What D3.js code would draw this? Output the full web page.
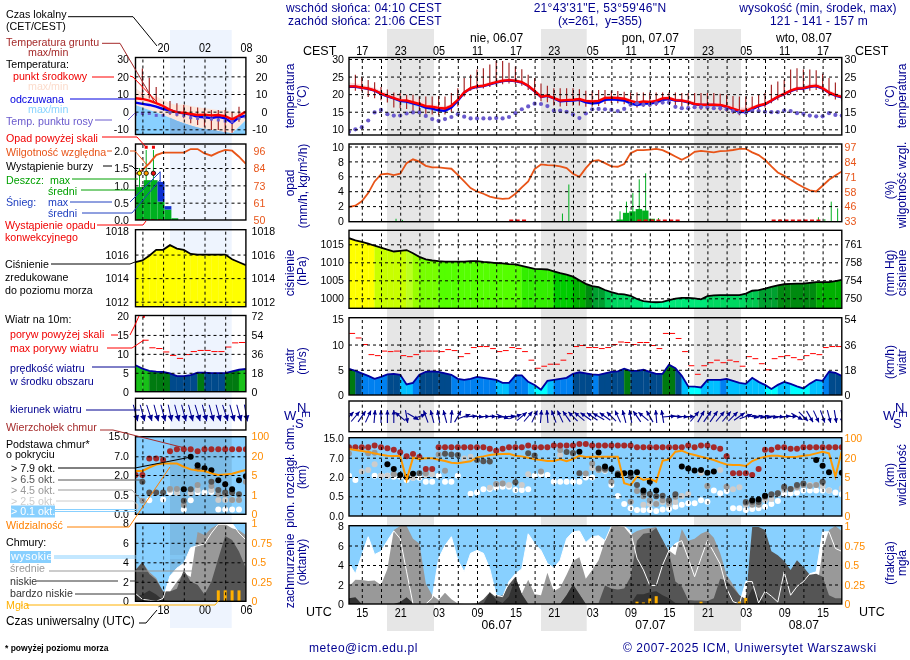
<!DOCTYPE html>
<html><head><meta charset="utf-8">
<script src="https://cdn.jsdelivr.net/npm/d3@7"></script>
<style>
html,body{margin:0;padding:0;background:#fff}
svg{display:block;font-family:"Liberation Sans",Arial,sans-serif}
text{font-size:11px}
</style></head><body>
<script>
// ---------- main meteogram data: hourly from 13 UTC 05.07 (78 values) ----------
const mainTemp=[22.2,22.2,21.9,21.6,21.1,20.2,19.5,18.9,18.3,18.2,
17.7,17.2,16.6,16.4,16.1,15.9,16.7,18.4,20.5,21.7,
22.2,22.4,22.9,23.4,23.8,24.0,23.8,23.4,22.4,20.9,
19.3,19.6,18.9,18.2,18.3,18.4,18.6,18.1,17.9,18.1,
18.9,19.0,18.9,18.7,18.1,17.6,17.9,17.8,18.1,18.8,
18.9,18.3,18.2,17.8,17.2,17.0,17.0,17.0,16.9,16.5,
15.9,15.3,15.2,16.0,16.8,17.2,18.2,19.3,20.1,21.0,
21.6,21.7,22.2,22.4,21.7,20.5,19.7,19.2];
const mainApparent=[22.1,22.1,21.8,21.5,21.0,20.1,19.4,18.8,18.1,17.9,
17.4,16.9,16.2,15.9,15.4,15.3,16.2,18.1,20.4,21.6,
22.1,22.3,22.8,23.3,23.7,23.9,23.7,23.3,22.3,20.8,
19.2,19.5,18.8,18.0,18.1,18.2,18.4,17.7,17.4,17.5,
18.4,18.5,18.4,18.2,17.4,16.9,17.3,17.3,17.7,18.4,
18.6,18.2,18.1,17.7,17.1,16.9,16.9,16.9,16.8,16.4,
15.7,15.0,14.9,15.7,16.6,17.1,18.1,19.2,20.0,20.9,
21.5,21.6,22.1,22.3,21.6,20.4,19.6,19.1];
const mainTempMax=[23.3,23.1,22.7,22.3,21.8,21.0,20.3,19.8,19.3,19.1,
18.7,18.2,17.6,17.2,16.8,16.6,17.2,18.8,20.9,22.1,
22.7,22.9,23.5,24.0,24.4,24.6,24.4,23.9,22.9,21.4,
19.9,20.2,19.4,18.7,18.8,18.9,19.1,18.6,18.4,18.6,
19.4,19.5,19.4,19.2,18.6,18.1,18.4,18.3,18.6,19.3,
19.4,18.8,18.7,18.4,17.9,17.7,17.7,17.7,17.6,17.2,
16.8,16.3,16.1,16.6,17.3,17.7,18.7,19.8,20.6,21.5,
22.2,22.4,22.9,23.1,22.4,21.2,20.4,19.8];
const mainApparentMin=[21.9,21.9,21.6,21.3,20.7,19.8,19.0,18.4,17.6,17.3,
16.8,16.3,15.6,15.3,14.9,14.8,15.8,17.8,20.2,21.4,
21.9,22.1,22.6,23.1,23.5,23.7,23.5,23.1,22.1,20.6,
19.0,19.3,18.6,17.7,17.8,17.9,18.1,17.3,17.0,17.1,
18.0,18.1,18.0,17.8,17.0,16.5,16.9,16.9,17.3,18.0,
18.3,18.0,17.9,17.5,16.9,16.7,16.7,16.7,16.6,16.2,
15.4,14.7,14.6,15.4,16.4,16.9,17.9,19.0,19.8,20.7,
21.3,21.4,21.9,22.1,21.4,20.2,19.4,18.9];
const mainGroundMax=[null,25.5,24.8,24,23.4,22,21.3,20.5,20.3,19.8,
19.8,19.3,19.3,19.3,19.5,19.3,20.3,21.7,24.6,25.5,
27,27.4,28.4,29.5,29.4,28.9,27.9,27.1,25.5,24.6,
23,22.4,21.7,21.7,21.7,21.7,21.4,21,21,21.2,
21.2,21,20.9,20.7,20.5,20.5,20.5,20.5,20.5,20.5,
20.5,20.5,20.3,20.3,20.3,20.3,20.3,20.3,20.1,19.8,
19.5,19.3,19.3,19.3,19.8,20.3,22.7,23.6,24.1,27,
27.4,27,27,26.8,25.8,24.6,23.3,21.7];
const mainGroundMin=[null,21,20.8,19.2,18.8,18.3,17.6,16.2,16,15.8,
15.2,14.8,14.4,14.2,14,14.2,15,16.5,19.3,21,
21.3,21.6,22,22.4,22.8,23,22.9,22.4,21.2,19.6,
18,17.7,16.8,16.5,16.6,16.7,16.8,16.4,16.4,16.6,
17.2,17.5,17.4,17.1,16.5,16.2,16.4,16.3,16.6,17.2,
17.3,16.9,16.6,16.2,15.8,15.5,15.5,15.5,15.3,15,
14.4,14,14.2,15,15.6,16.2,17.4,18.3,19.3,20,
20.6,20.7,21,21.2,20.6,19.4,18.5,18];
const mainDew=[9.3,10,10.6,12.5,14.8,15.5,14.3,13.9,13.9,14.5,
14.8,14.8,13.8,12.9,12.4,12.9,13.5,14.3,13.6,13.1,
13.1,13.1,13.1,13.2,13.1,13.5,14.6,15.7,16.5,17.3,
17.2,16.6,15.3,15.3,15,14.2,13.2,14.5,15.7,15.8,
15.7,15.5,15.2,15.8,17,17.4,17,17,17.4,17.6,
17.6,16.4,16,16,16.3,16.3,16.2,16,16,15.7,
15.2,14.8,14.8,15.2,15.2,15,14.9,14.9,15.3,15.2,
14.6,14.4,13.9,13.7,13.7,14.6,14.1,13.9];
const mainRH=[45,46.1,49.9,57,67,73,73.6,72.4,73.6,82.7,
86,84,80.4,79,79,78.4,77.9,72.7,67,61.3,
58.4,56.4,54,52.7,52,52.4,56.4,61.9,67,77.6,
81.6,81,80.7,79.9,78.4,73.6,71,78.4,84.4,85.3,
82.7,79.9,79.6,82,91.3,93.9,93.9,94.4,95,93.9,
91.3,88.4,85.6,88.4,92.4,93.3,92.6,92,93,93.3,
94,95,95,92,89.6,85.6,79.9,74.7,71.9,68.4,
65,62,59.3,58.4,63.3,68.4,72,75.6];
const rainMeanHours=[42,43,44,45,46,47];
const rainMeanVals=[0.2,1.1,1.3,1.6,1.4,0.3];
const rainMaxHours=[7,8,33,34,42,43,44,45,46,48,67,73,74,75,76];
const rainMaxVals=[0.3,0.15,1,4.9,1.3,2.6,3.75,5.6,6.4,0.4,0.25,0.5,0.25,2.6,1.7];
const precipFlagHours=[25,26,27,45,46,47,48,49,50,51,66,67,68,69,70,71,72,73];
const mainPressure=[1016.7,1016.1,1015.7,1015.2,1014.6,1014.1,1013.5,1013,1013.2,1013.4,
1012.5,1011.5,1010.8,1010.5,1010.3,1010.2,1010.2,1010.2,1010.2,1010.3,
1010.3,1010.1,1010,1009.8,1009.7,1009.5,1009.4,1009,1008.6,1008.2,
1008.1,1008,1007.5,1007,1006.6,1006,1005,1004,1003.4,1003.1,
1002.3,1001.7,1001.2,1001.1,1000.7,999.8,999.2,999,998.9,999,
999.5,999.9,1000.1,1000.1,1000,999.7,1000.6,1000.8,1000.9,1000.9,
1000.9,1000.9,1001.3,1002.1,1002.3,1002.7,1003.2,1003.6,1003.9,1004,
1004.1,1004.1,1004.3,1004.5,1004.5,1004.5,1004.8,1005.1];
const mainWind=[5.2,4.8,4.3,3.8,3.2,3.6,4.1,4.2,4,2.1,
2.4,4,4.6,4.7,4.6,4.3,4,3.2,3,3.2,
3.6,3.4,3.2,3,2.4,2.4,3.9,3.9,2.6,2,
1.06,2.8,3,3.2,3.4,4.2,4.5,4.3,4.1,4,
4.3,4.6,4.7,5.2,4.8,4.8,5,4.6,4.2,4.2,
6,5.3,3.8,1.7,1.65,1.5,3,3,3,3.2,
2.8,2.4,2.2,3.4,2.6,2,1.2,2,2.6,2.2,
1.7,1.3,2.25,3,2.8,4.6,4.4,3.8];
const mainGust=[12.2,11.3,10,8,7.8,8.7,8.6,8.7,7.8,7.6,
8,8.7,8.7,8.7,8.6,9,8.8,7.6,8.2,9.4,
9.6,9.6,9.2,8.6,8.8,9.4,9.2,8.6,6.9,5.3,
5.7,6.1,6.1,6.9,8.2,9.6,9.8,9.4,9.4,9.2,
9.4,10,10.5,10.4,10,10.4,10.4,9.8,9.2,12.2,
12.2,11.2,8.6,5.8,4.1,5.8,6.4,6.9,6.4,6.9,
6.6,5.7,7.6,7.2,6.2,5,7.2,7.6,7.8,7.4,
7,7.8,8.2,8,9.4,9.6,9.6];
const mainDir=[45,40,35,25,5,0,0,0,-50,170,
120,70,-20,-15,-10,-15,5,30,70,85,
95,90,90,95,110,85,70,50,40,25,
5,-5,-20,-25,-35,-45,-50,-55,-55,-60,
-55,-45,-25,-15,-10,-35,-50,-30,-5,-10,
85,95,95,90,40,30,35,35,40,40,
45,55,70,100,100,100,100,95,85,90,
120,135,150,155,160,165,170,175];
const mainCloudTop=[11.3,11.3,11.3,11.3,12,11.3,10.9,10.3,9.2,7.6,
8.5,7.3,4.05,4.05,11.3,11.3,11.3,11.3,11.3,11.3,
11.3,11.3,10.7,9.9,10.7,11.3,11.3,11.3,12,11.3,
11.3,11.3,12,12,12,12,12.65,12.65,12,12,
12,12,12,12,12,11.3,11.3,11.3,11.3,11.3,
11.3,11.3,11.3,12,11.3,12,12,11.3,10.7,7.6,
2.95,2.95,2.95,2.5,4.05,10.3,10.3,11.3,11.3,10.7,
10.7,11.3,11.3,11.3,11.3,11.3,11.3,11.3];
const mainBase79=[[6,5.3],[7,4.1],[8,2.5],[9,2],[10,2.85],[36,9.5],[39,9.1],[40,4.7],[41,4.1],[42,2.5],[43,3],[44,3.1],[45,3.2],[46,.95],[47,1.64],[48,.95],[52,4.7],[53,4.2],[54,3.7],[55,3.8],[56,3.1],[57,3.4],[63,.4],[64,.42],[65,.55],[73,6.4],[74,4.9],[75,3.2],[77,3.1]];
const mainBase65=[[11,2.95],[15,8.6],[16,8.3],[17,8.1],[20,6.4],[21,6.1],[22,6],[26,1.6],[28,8.8],[29,7.9],[34,9.4],[35,8.9],[36,2.95],[39,4.2],[40,4.2],[42,2.9],[44,2.1],[45,1.38],[46,.8],[47,.68],[48,.5],[49,.55],[50,.4],[51,.65],[62,.35],[63,.36],[64,.35],[65,.5],[66,.65],[67,.73],[68,1.25],[69,1.07],[70,1.38],[71,1.5],[74,1.64]];
const mainBase45=[[0,8.7],[3,8.8],[4,9],[7,2.7],[12,3],[14,8.3],[15,3.65],[23,1.45],[24,1.5],[30,3.4],[33,10.2],[35,8.7],[37,2.9],[38,5.5],[39,3.8],[40,3.8],[41,1.64],[44,.36],[45,.92],[46,.5],[47,.4],[48,.3],[49,.4],[50,.33],[51,.49],[56,1.3],[59,1.25],[62,.32],[63,.28],[64,.28],[65,.47],[66,.6],[67,.73],[68,1.12],[69,1.07],[70,1.25],[71,1.38],[72,1.3],[73,1.38],[74,1.57]];
const mainBase25=[[2,3.4],[3,3.8],[4,5.3],[5,2.3],[6,2.3],[7,2.7],[10,1.95],[12,2.5],[13,2.7],[18,6.8],[19,7.4],[22,1.17],[23,1.43],[24,1.5],[25,1.38],[27,1.38],[28,2.7],[33,8.1],[38,4.3],[39,3.8],[44,.35],[46,.28],[47,.3],[48,.32],[49,.35],[50,.28],[51,.35],[52,.53],[53,.68],[55,3.1],[56,1.3],[58,3.8],[59,1.25],[60,1.04],[61,1.2],[62,.28],[64,.3],[65,.4],[66,.43],[67,.68],[68,.99],[69,1.04],[70,1.17],[71,1.38],[72,1.38],[73,1.38],[74,1.3],[75,.95],[77,1.12]];
const mainBase01=[[0,2.3],[1,1.77],[4,2.3],[5,2.3],[6,2.3],[7,2.09],[8,2.09],[9,1.77],[10,1.95],[11,1.95],[12,1.64],[13,1.64],[14,2.3],[15,1.64],[16,1.64],[17,2.3],[19,.7],[20,.8],[21,1.04],[22,1.07],[23,1.17],[24,1.25],[25,1.25],[26,.99],[27,.99],[28,1.04],[29,2.3],[30,2.7],[31,2.5],[32,1.64],[33,1.64],[34,1.64],[35,1.64],[36,1.64],[37,1.97],[38,1.97],[39,3.8],[40,3.65],[41,1.38],[42,.53],[43,.3],[44,.19],[45,.15],[46,.15],[47,.15],[48,.12],[49,.16],[50,.17],[51,.23],[52,.28],[53,.32],[54,.32],[55,.4],[56,.36],[57,.95],[58,.73],[59,.92],[60,.19],[61,.19],[62,.15],[63,.17],[64,.19],[65,.23],[66,.3],[67,.38],[68,.68],[69,.73],[70,.78],[71,.95],[72,.95],[73,.95],[74,.95],[75,.95],[76,.8],[77,.65]];
const mainVis=[55.9,51.7,47.6,43.4,37.9,32.4,28.3,26.9,26.9,4.4,
20,19,19.5,19.5,18.4,17.4,16.1,15.6,16.4,17.2,
21.4,25.5,31,33.8,35.2,36.5,28.3,25.5,20,18.7,
18.2,17.4,17.4,18.7,17.2,19,28.3,22.8,24,24,
24,24,24,3.7,3.3,5.3,4.4,4.7,4,17.7,
18.7,44.8,49,37.9,31,24,19.5,18.2,16.4,14.8,
14.3,14.3,13.5,17.4,19.5,24,28.3,28.3,24,22.8,
24,28.3,31,37.9,44.8,37.9,5.3,47.6];
const mainHigh=[4.15,3.1,5,6.9,5.07,5.4,6.5,7.5,6.7,3.3,
0,0,0,.6,4.65,6,6.9,4.5,3.3,5.2,
5.5,5.2,3.6,.9,.75,2.3,3.1,3.6,7.2,6.2,
5.5,4.15,3.7,4.5,6.7,7.4,7.5,6.3,6.9,7,
6.5,8,8,8,7.4,4.7,3.5,1.9,1.9,4,
5.5,6.2,6.5,4.7,2.8,4.7,6.5,5.3,4.1,1.6,
.25,0,2.3,2.3,.1,1.3,.8,.2,3.3,.9,
1.8,2.3,3.1,3.3,7.4,7.4,5.7,5.4];
const mainMid=[1.8,2.5,2.45,2.35,2.4,1.95,3.6,7.6,8,8,
6.7,6.2,2.1,.9,.4,1.15,.5,.05,0,0,
0,.25,.5,.9,.7,1.9,1.9,1.05,2.5,1,
.9,3.2,1.3,1.7,3,4.4,4.8,2.6,3.5,4.5,
6.5,8,8,7.9,7.1,7.5,7.7,7.8,7.9,6.4,
5.5,5,7.7,6.5,6.7,7.2,7.5,6.8,5.2,3,
2,.9,.4,.1,0,0,0,0,0,0,
0,0,0,1,5.5,7.6,8,7.5];
const mainLow=[.4,.3,0,0,0,0,0,0,0,0,
0,0,0,0,.1,.1,0,0,0,0,
.05,.5,1.2,.7,.9,2,2.8,1,0,0,
0,0,0,0,.9,2,1,0,.1,.1,
1.9,1.6,1.5,1.6,2.8,6.5,7.2,7.3,7.8,6.6,
5.3,2.3,1.8,.4,.35,.35,.3,.6,2.6,2.4,
1.7,.9,.5,7.9,7.9,7.6,5.4,5,4.4,3.5,
4.5,3.8,3,3.1,2.8,.9,.6,.6];
const mainVeryLow=[.6,.7,0,0,0,0,0,0,.2,.7,
.1,0,0,0,0,0,0,0,0,0,
0,0,1.2,.4,.1,.8,2.7,1,0,0,
0,0,0,0,.9,2,1,0,0,0,
0,0,0,0,0,1,1,1.2,1.3,.9,
.6,.1,0,0,0,0,0,0,0,0,
0,0,.2,1.6,.7,.1,0,0,0,0,
0,0,0,0,0,0,0,0];
const mainFogHours=[45,46,47,48,55,61,62];
const mainFogVals=[.03,.02,.07,.1,.03,.03,.08];

// ---------- small legend meteogram: hourly from 14 UTC (17 values) ----------
const leftTemp=[7.6,7.2,6.3,4.8,3.2,1,-.4,-.6,-1.3,-1.9,-1.7,-2.1,-1.9,-2.5,-4.4,-2.3,0];
const leftApparent=[5.1,4.4,3.8,2.9,1.5,.8,-.4,-1,-1.7,-2.9,-3.2,-3.6,-2.9,-3.8,-6.3,-3.2,-2.3];
const leftTempMax=[13.3,10.5,9.5,8.6,6.7,4.8,3.8,4.2,3.2,2.5,1.9,1.5,1,1,0,-.6,.4];
const leftSkyTop=[3.8,2.3,1,-.4,-1.9,-3.4,-5.1,-6.6,-7.9,-9,-9.8,-10.4,-10.9,-11.7,-12.3,-8.5,-4.7];
const leftDew=[-1.5,-1,-1,-2.1,-2.1,-.4,-1.5,-2.3,-3.4,-3.8,-3.4,-4.2,-4.7,-5.3,-5.7,-3.8,-3];
const leftGroundMax=[null,24.5,19.2,14,null,6,4.7,3.8,2.8,2.3,1.9,.9,.9,.9,0,2.8,null];
const leftGroundMin=[null,8.5,7.5,5.7,null,-1.9,-2.8,-3.8,-6.6,-7.5,-8.5,-10.4,-10.4,-11.9,-11.9,-5.7,null];
const leftRH=[80.5,83.2,87.6,93.1,94.7,94.7,94.7,94.7,97.1,97.1,94.2,92.7,94.9,96.5,96,92,87.2];
const leftRainHours=[-1,0,1,2,3,4,5];
const leftRainVals=[.95,.95,1.15,1.15,.53,.3,.05];
const leftSnowHours=[3,4];
const leftSnowVals=[.57,.1];
const leftStormHours=[.58,1.55,2.6];
const leftStormColors=["#ffee00","#ff9900","#ee1111"];
const leftStormLevels=[1.35,1.35,1.35];
const leftRainMaxVals=[1.5,2.02,2.02];
const leftOverScaleHours=[1.55,2.6];
const leftOverScaleVals=[2.1,2.1];
const leftPressure=[1015.35,1015.5,1015.9,1016.4,1016.4,1016.8,1016.5,1016.4,1016.05,1016,1016,1016,1016,1016,1015.6,1015.35,1015.1];
const leftWind=[7,6.1,5.5,5.3,5.2,4.85,4.1,4.1,4.4,5.05,5.05,4.9,4.9,4.9,5.4,5.8,6];
const leftGust=[null,13.6,11.6,11.4,10.5,9.6,8.8,9.8,10.6,10.9,10.9,10.6,10.6,11.8,12.9,13];
const leftDir=[165,165,162,165,165,168,165,165,165,163,165,165,165,162,165,165,170];
const leftTop=[2,2,6.4,6.4,6,9,9.7,9.7,9.7,9,9.7,9.7,9.7,9.7,9.7,9.7,9.7];
const leftBase79=[[7,.93],[8,6.9],[9,4.6],[10,3.8],[11,3.3],[12,1.6],[13,1.3],[14,.93],[15,1.6],[16,1.9]];
const leftBase65=[[1,1.5],[2,.68],[3,.68],[4,.68],[7,.35],[8,.93],[9,3.8],[11,1.5],[12,.88],[13,.68],[14,.68],[15,.55]];
const leftBase45=[[1,.35],[5,.95],[6,.95],[7,.24],[9,1.25],[11,1.18],[12,.55],[13,.55],[14,.37],[15,.37],[16,1.5]];
const leftBase25=[[0,.2],[5,.88],[6,.68],[8,.63],[9,.88],[11,.88],[12,.37],[13,.37],[14,.37],[15,.37]];
const leftBase01=[[2,.36],[4,.38],[5,.68],[6,.68],[7,.12],[8,.36],[9,.68],[10,.68],[11,.72],[12,.12],[13,.12],[14,.12],[15,.12]];
const leftVis=[8.2,8.2,11,13.4,14.2,14.2,14.2,11.6,9.5,8.7,8.2,6.3,5,5.5,6,7.6,9];
const leftHigh=[.8,.2,.1,0,.3,2.6,3.4,3.9,5.5,5.7,5.9,7,7.9,7.9,8,7,6.3];
const leftMid=[3.2,4,3,2.4,1,1,2,2.9,2.5,7.1,6.8,7.5,7.9,7.9,7.5,7.3,6.8];
const leftLow=[3.2,4,2.8,2.2,1,1,1.3,3.2,2,1.7,.7,2,4.4,6.7,6.3,5.1,3.4];
const leftVeryLow=[.5,.7,1.1,.7,.1,0,0,0,0,0,0,0,0,0,0,0,0];
const leftFogHours=[12,13,14,15];
const leftFogVals=[.14,.14,.14,.14];

// ---------- tick labels ----------
const localHours=[2,8,14,20,26,32,38,44,50,56,62,68,74];
const localLabels=["17","23","05","11","17","23","05","11","17","23","05","11","17"];
const utcLabels=["15","21","03","09","15","21","03","09","15","21","03","09","15"];
const gridHoursMain=d3.range(2,77,3);
const leftGridHours=[1,4,7,10,13];
const leftUtcHours=[4,10,16];
const leftLocalLabels=["20","02","08"];
const leftUtcLabels=["18","00","06"];
const dayHours=[23,47,71];
const dayNames=["nie, 06.07","pon, 07.07","wto, 08.07"];
const dateNames=["06.07","07.07","08.07"];

const NAVY="#000090",RED="#ff0000",RH="#e85418",ORANGE="#ff8c00",BROWN="#a52a2a",SKY="#88d0ff";
const W=910,H=660;
const svg=d3.select("body").append("svg").attr("width",W).attr("height",H);
const xM=d3.scaleLinear([0,77],[349,841.8]);
const xL=d3.scaleLinear([0,16],[135.5,245.9]);
let clipN=0;
const defs=svg.append("defs");
const FONT='"Liberation Sans",Arial,sans-serif';

function squeeze(sel,f){
  sel.each(function(){const n=this.getComputedTextLength();d3.select(this).attr("textLength",n*f).attr("lengthAdjust","spacingAndGlyphs");});
}

// sun / night bands
[[170,231.7]].forEach(b=>svg.append("rect").attr("x",b[0]).attr("y",30).attr("width",b[1]-b[0]).attr("height",598).attr("fill","#eef4fe"));
[[387,434],[541,586.7],[694,741]].forEach(b=>svg.append("rect").attr("x",b[0]).attr("y",29).attr("width",b[1]-b[0]).attr("height",602).attr("fill","#e6e6e6"));

function panel(x,y0,y1){
  const id="c"+(clipN++);
  const [a,b]=x.range();
  defs.append("clipPath").attr("id",id).append("rect").attr("x",a).attr("y",y0).attr("width",b-a).attr("height",y1-y0);
  return {g:svg.append("g").attr("clip-path",`url(#${id})`),x,y0,y1,a,b};
}
function frame(p){svg.append("rect").attr("x",p.a).attr("y",p.y0).attr("width",p.b-p.a).attr("height",p.y1-p.y0).attr("fill","none").attr("stroke","#000").attr("stroke-width",1.4);}
function grid(p,y,vals,hours){
  const gg=p.g.append("g").attr("class","grid");
  if(y&&vals){gg.append("g").attr("transform",`translate(${p.a},0)`).call(d3.axisLeft(y).tickValues(vals).tickSize(-(p.b-p.a)).tickFormat(""));}
  gg.append("g").attr("transform",`translate(0,${p.y1})`).call(d3.axisBottom(p.x).tickValues(hours).tickSize(-(p.y1-p.y0)).tickFormat(""));
  gg.selectAll(".domain").remove();
  gg.selectAll("line").attr("stroke","#000").attr("stroke-width",1).attr("stroke-dasharray","3,3");
}
function yAxis(gen,xpos,y,vals,fmt,color){
  const a=svg.append("g").attr("transform",`translate(${xpos},0)`).call(gen(y).tickValues(vals).tickFormat(fmt).tickSize(0).tickPadding(0));
  a.select(".domain").remove();
  a.selectAll("text").attr("fill",color||"#000").style("font-size","11.5px").style("font-family",FONT);
  squeeze(a.selectAll("text"),.92);
  return a;
}
function lineGen(p,y){return d3.line().defined(d=>d!=null).x((d,i)=>p.x(i)).y(d=>y(d));}
function areaGen(p,y,lo){return d3.area().x((d,i)=>p.x(i)).y0(lo).y1(d=>y(d));}
function band(p,y,top,bot,color){
  p.g.append("path").attr("d",d3.area().x((d,i)=>p.x(i)).y0((d,i)=>y(bot[i])).y1((d,i)=>y(top[i]))(top)).attr("fill",color);
}
function columns(p,y,vals,colorOf){
  vals.slice(0,-1).forEach((v,i)=>{
    const two=[[i,v],[i+1,vals[i+1]]];
    p.g.append("path").attr("d",d3.area().x(d=>p.x(d[0])).y0(p.y1).y1(d=>y(d[1]))(two)).attr("fill",colorOf((v+vals[i+1])/2)).attr("stroke",colorOf((v+vals[i+1])/2)).attr("stroke-width",.3);
  });
}
function dots(p,y,pairs,color,r){
  p.g.append("g").selectAll("circle").data(pairs).join("circle").attr("cx",d=>p.x(d[0])).attr("cy",d=>y(d[1])).attr("r",r).attr("fill",color);
}
function arrows(p,vals,len,mid,sw,s,w){
  const g=p.g.append("g");
  vals.forEach((deg,i)=>{
    const a=(deg-90)*Math.PI/180,cx=p.x(i);
    const tx=cx-Math.cos(a)*len/2,ty=mid-Math.sin(a)*len/2,hx=cx+Math.cos(a)*len/2,hy=mid+Math.sin(a)*len/2;
    g.append("line").attr("x1",tx).attr("y1",ty).attr("x2",hx).attr("y2",hy).attr("stroke",NAVY).attr("stroke-width",sw);
    const bx=hx-Math.cos(a)*s,by=hy-Math.sin(a)*s;
    g.append("path").attr("d",`M${hx},${hy}L${bx-Math.sin(a)*w},${by+Math.cos(a)*w}L${bx+Math.sin(a)*w},${by-Math.cos(a)*w}Z`).attr("fill",NAVY);
  });
}
const pressColor=d3.scaleThreshold()
 .domain([999.5,1000.5,1001.5,1002.5,1003.5,1004.5,1006,1007.5,1009,1010.4,1011.5,1012.6,1013,1014.8,1016.75])
 .range(["#00ff99","#00e878","#00d860","#00c850","#00a030","#008a10","#00b000","#00cc00","#33ee00","#55ff00","#77ff00","#99ff00","#bbff22","#c8ff00","#ffff00","#ffd800"]);
const windColor=d3.scaleThreshold().domain([2,3.1,4.1,5,5.7]).range(["#00ffff","#00c0ff","#0080f0","#004a8c","#007a10","#18c018"]);
const OKTA_FILL={vlow:"#333333",low:"#555555",mid:"#999999"};
const numFmt=d=>d;

// ================= MAIN PANELS ===================
{
 const p=panel(xM,57.5,135),y=d3.scaleLinear([10,30],[129.3,59]);
 band(p,y,mainTempMax,mainTemp,"#fcdadb");
 band(p,y,mainApparent,mainApparentMin,"#a9dcff");
 mainGroundMax.forEach((v,i)=>{if(v!=null)p.g.append("line").attr("x1",p.x(i)).attr("x2",p.x(i)).attr("y1",y(v)).attr("y2",y(mainGroundMin[i])).attr("stroke",BROWN).attr("stroke-width",1.2);});
 p.g.append("path").attr("d",lineGen(p,y)(mainApparent)).attr("fill","none").attr("stroke","#0000ee").attr("stroke-width",2.4);
 p.g.append("path").attr("d",lineGen(p,y)(mainTemp)).attr("fill","none").attr("stroke",RED).attr("stroke-width",2.4);
 dots(p,y,mainDew.map((v,i)=>[i,v]),"#6a5acd",2.1);
 grid(p,y,[30,25,20,15,10],gridHoursMain); frame(p);
 yAxis(d3.axisLeft,344,y,[30,25,20,15,10],numFmt); yAxis(d3.axisRight,844.5,y,[30,25,20,15,10],numFmt);
}
{
 const p=panel(xM,144,221.7),y=d3.scaleLinear([0,10],[221,146.5]),yh=d3.scaleLinear([33,97],[221,146.5]);
 p.g.append("g").selectAll("rect").data(rainMeanHours).join("rect").attr("x",d=>xM(d-.2)).attr("width",xM(1)-xM(0)).attr("y",(d,i)=>y(rainMeanVals[i])).attr("height",(d,i)=>y(0)-y(rainMeanVals[i])).attr("fill","#00b020");
 p.g.append("g").selectAll("line").data(rainMaxHours).join("line").attr("x1",d=>xM(d+.35)).attr("x2",d=>xM(d+.35)).attr("y1",y(0)).attr("y2",(d,i)=>y(rainMaxVals[i])).attr("stroke","#00b020").attr("stroke-width",1);
 p.g.append("path").attr("d",lineGen(p,yh)(mainRH)).attr("fill","none").attr("stroke",RH).attr("stroke-width",1.8);
 p.g.append("g").selectAll("rect").data(precipFlagHours).join("rect").attr("x",d=>xM(d+.35)-2).attr("width",4).attr("y",y(0)-1.5).attr("height",2.5).attr("fill","#e01010");
 grid(p,y,[10,8,6,4,2],gridHoursMain); frame(p);
 yAxis(d3.axisLeft,344,y,[10,8,6,4,2,0],numFmt);
 yAxis(d3.axisRight,844.5,yh,[97,84,71,58,46,33],numFmt,RH);
}
{
 const p=panel(xM,230.3,308.3),y=d3.scaleLinear([1000,1015],[298.3,244.3]);
 columns(p,y,mainPressure,pressColor);
 p.g.append("path").attr("d",lineGen(p,y)(mainPressure)).attr("fill","none").attr("stroke","#000").attr("stroke-width",1.8);
 grid(p,y,[1015,1010,1005,1000],gridHoursMain); frame(p);
 yAxis(d3.axisLeft,344,y,[1015,1010,1005,1000],numFmt);
 yAxis(d3.axisRight,844.5,y,[1015,1010,1005,1000],d=>({1015:"761",1010:"758",1005:"754",1000:"750"}[d]));
}
{
 const p=panel(xM,317.7,395),y=d3.scaleLinear([0,15],[395,319.3]);
 columns(p,y,mainWind,windColor);
 p.g.append("path").attr("d",lineGen(p,y)(mainWind)).attr("fill","none").attr("stroke","#0000a0").attr("stroke-width",1.8);
 p.g.append("g").selectAll("line").data(mainGust).join("line").attr("x1",(d,i)=>xM(i+.05)).attr("x2",(d,i)=>xM(i+.95)).attr("y1",d=>y(d)).attr("y2",d=>y(d)).attr("stroke",RED).attr("stroke-width",1);
 grid(p,y,[10,5],gridHoursMain); frame(p);
 yAxis(d3.axisLeft,344,y,[15,10,5,0],numFmt);
 yAxis(d3.axisRight,844.5,y,[15,10,5,0],d=>({15:"54",10:"36",5:"18",0:"0"}[d]));
}
{
 const p=panel(xM,401,431.7);
 arrows(p,mainDir,13,416.5,1.1,4.5,2.2);
 grid(p,null,null,gridHoursMain); frame(p);
}
{
 const p=panel(xM,437.7,516);
 const y=d3.scaleLinear([0,.5,2,7,15],[515.7,496.3,477,457.7,438.3]);
 const yv=d3.scaleLinear([0,1,5,20,100],[515.7,496.3,477,457.7,438.3]);
 p.g.append("rect").attr("x",p.a).attr("y",p.y0).attr("width",p.b-p.a).attr("height",p.y1-p.y0).attr("fill",SKY).style("mix-blend-mode","multiply");
 dots(p,y,mainBase01,"#ffffff",3);
 dots(p,y,mainBase25,"#cccccc",3);
 dots(p,y,mainBase45,"#999999",3);
 dots(p,y,mainBase65,"#555555",3);
 dots(p,y,mainBase79,"#000000",3);
 dots(p,y,mainCloudTop.map((v,i)=>[i,v]),BROWN,3);
 p.g.append("path").attr("d",lineGen(p,yv)(mainVis)).attr("fill","none").attr("stroke","#ff9900").attr("stroke-width",2);
 grid(p,y,[7,2,.5],gridHoursMain); frame(p);
 yAxis(d3.axisLeft,344,y,[15,7,2,.5,0],d3.format(".1f"));
 yAxis(d3.axisRight,844.5,yv,[100,20,5,1,0],numFmt,ORANGE);
}
{
 const p=panel(xM,525.7,604),y=d3.scaleLinear([0,8],[604,526]),yf=d3.scaleLinear([0,1],[604,526]);
 p.g.append("rect").attr("x",p.a).attr("y",p.y0).attr("width",p.b-p.a).attr("height",p.y1-p.y0).attr("fill",SKY).style("mix-blend-mode","multiply");
 p.g.append("path").attr("d",areaGen(p,y,p.y1)(mainHigh)).attr("fill","#fff");
 p.g.append("path").attr("d",areaGen(p,y,p.y1)(mainMid)).attr("fill",OKTA_FILL.mid);
 p.g.append("path").attr("d",areaGen(p,y,p.y1)(mainLow)).attr("fill",OKTA_FILL.low);
 p.g.append("path").attr("d",areaGen(p,y,p.y1)(mainVeryLow)).attr("fill",OKTA_FILL.vlow);
 p.g.append("path").attr("d",lineGen(p,y)(mainHigh)).attr("fill","none").attr("stroke","#fff").attr("stroke-width",1);
 p.g.append("g").selectAll("rect").data(mainFogHours).join("rect").attr("x",d=>xM(d)-1.5).attr("width",3).attr("y",(d,i)=>yf(mainFogVals[i])).attr("height",(d,i)=>yf(0)-yf(mainFogVals[i])).attr("fill","#ffb000");
 grid(p,y,[6,4,2],gridHoursMain); frame(p);
 yAxis(d3.axisLeft,344,y,[8,6,4,2,0],numFmt);
 yAxis(d3.axisRight,844.5,yf,[1,.75,.5,.25,0],numFmt,ORANGE);
}
function timeLabels(scale,gen,ty,hours,labels,padding,size,f){
 const a=svg.append("g").attr("transform",`translate(0,${ty})`).call(gen(scale).tickValues(hours).tickFormat((d,i)=>labels[i]).tickSize(0).tickPadding(padding));
 a.select(".domain").remove();
 a.selectAll("text").attr("fill","#000").style("font-size",(size||12)+"px").style("font-family",FONT);
 squeeze(a.selectAll("text"),f||.9);
}
timeLabels(xM,d3.axisTop,58,localHours,localLabels,3);
timeLabels(xM,d3.axisBottom,608,localHours,utcLabels,0);
timeLabels(xM,d3.axisTop,45,dayHours,dayNames,3,12.5,.97);
timeLabels(xM,d3.axisBottom,620,dayHours,dateNames,0,12.5,.97);

// ================= LEFT (legend) PANELS ===================
{
 const p=panel(xL,57.5,134.5),y=d3.scaleLinear([-10,30],[129.3,58.7]);
 band(p,y,leftTempMax,leftSkyTop,"#fde6dc");
 const sky=d3.area().x((d,i)=>xL(i)).y0(p.y1).y1(d=>y(d))(leftSkyTop);
 p.g.append("path").attr("d",sky).attr("fill",SKY);
 const id="c"+(clipN++);
 defs.append("clipPath").attr("id",id).append("rect").attr("x",170).attr("y",57).attr("width",61.7).attr("height",78);
 p.g.append("path").attr("d",sky).attr("fill","#7fb8ea").attr("clip-path",`url(#${id})`);
 leftGroundMax.forEach((v,i)=>{if(v!=null)p.g.append("line").attr("x1",xL(i)).attr("x2",xL(i)).attr("y1",y(v)).attr("y2",y(leftGroundMin[i])).attr("stroke",BROWN).attr("stroke-width",1.2);});
 p.g.append("path").attr("d",lineGen(p,y)(leftApparent)).attr("fill","none").attr("stroke","#0000ee").attr("stroke-width",2.4);
 p.g.append("path").attr("d",lineGen(p,y)(leftTemp)).attr("fill","none").attr("stroke",RED).attr("stroke-width",2.4);
 p.g.append("g").selectAll("rect").data(leftDew).join("rect").attr("x",(d,i)=>xL(i)-1.5).attr("y",d=>y(d)-1.5).attr("width",3).attr("height",3).attr("fill","#6a5acd");
 grid(p,y,[20,10,0,-10],leftGridHours); frame(p);
 yAxis(d3.axisLeft,129,y,[30,20,10,0,-10],numFmt);
 yAxis(d3.axisRight,267.5,y,[30,20,10,0,-10],numFmt).selectAll("text").attr("text-anchor","end");
}
{
 const p=panel(xL,144,220),y=d3.scaleLinear([0,2],[220,150.7]),yh=d3.scaleLinear([50,96],[220,150.7]);
 p.g.append("g").selectAll("rect").data(leftRainHours).join("rect").attr("x",d=>xL(d+.2)).attr("width",xL(1)-xL(0)).attr("y",(d,i)=>y(leftRainVals[i])).attr("height",(d,i)=>y(0)-y(leftRainVals[i])).attr("fill","#00b020");
 p.g.append("g").selectAll("rect").data(leftSnowHours).join("rect").attr("x",d=>xL(d+.2)).attr("width",xL(1)-xL(0)).attr("y",(d,i)=>y(leftRainVals[i+4]+leftSnowVals[i])).attr("height",(d,i)=>y(0)-y(leftSnowVals[i])).attr("fill","#1030d0");
 p.g.append("g").selectAll("line").data(leftStormHours).join("line").attr("x1",d=>xL(d)).attr("x2",d=>xL(d)).attr("y1",y(0.9)).attr("y2",(d,i)=>y(leftRainMaxVals[i])).attr("stroke","#00b020");
 p.g.append("line").attr("x1",xL(3.57)).attr("x2",xL(3.57)).attr("y1",y(1.1)).attr("y2",y(1.4)).attr("stroke","#1030d0");
 p.g.append("path").attr("d",lineGen(p,yh)(leftRH)).attr("fill","none").attr("stroke",RH).attr("stroke-width",1.8);
 p.g.append("g").selectAll("circle").data(leftStormHours).join("circle").attr("cx",d=>xL(d)).attr("cy",(d,i)=>y(leftStormLevels[i])).attr("r",2.2).attr("fill",(d,i)=>leftStormColors[i]).attr("stroke","#000").attr("stroke-width",.8);
 p.g.append("g").selectAll("rect").data(leftOverScaleHours).join("rect").attr("x",d=>xL(d)-1.5).attr("y",(d,i)=>y(leftOverScaleVals[i])-1.5).attr("width",3).attr("height",3).attr("fill","#ee0000");
 p.g.append("g").selectAll("rect.f").data([.5,1.5,2.5,3.5]).join("rect").attr("x",d=>xL(d)-1.5).attr("y",y(0)-1).attr("width",3).attr("height",1.5).attr("fill","#e01010");
 grid(p,y,[1.5,1,.5],leftGridHours); frame(p);
 yAxis(d3.axisLeft,129,y,[2,1.5,1,.5,0],d3.format(".1f"));
 yAxis(d3.axisRight,253.5,yh,[96,84.5,73,61.5,50],d=>({96:"96",84.5:"84",73:"73",61.5:"61",50:"50"}[d]),RH);
}
{
 const p=panel(xL,229.7,306.7),y=d3.scaleLinear([1012,1018],[301.7,231]);
 columns(p,y,leftPressure,pressColor);
 p.g.append("path").attr("d",lineGen(p,y)(leftPressure)).attr("fill","none").attr("stroke","#000").attr("stroke-width",1.8);
 grid(p,y,[1016,1014,1012],leftGridHours); frame(p);
 yAxis(d3.axisLeft,129,y,[1018,1016,1014,1012],numFmt); yAxis(d3.axisRight,251.5,y,[1018,1016,1014,1012],numFmt);
}
{
 const p=panel(xL,315.5,391.7),y=d3.scaleLinear([0,20],[391.7,316]);
 columns(p,y,leftWind,windColor);
 p.g.append("path").attr("d",lineGen(p,y)(leftWind)).attr("fill","none").attr("stroke","#0000a0").attr("stroke-width",1.8);
 leftGust.forEach((d,i)=>{if(d!=null)p.g.append("line").attr("x1",xL(i)).attr("x2",xL(i+.9)).attr("y1",y(d)).attr("y2",y(d)).attr("stroke",RED);});
 p.g.append("circle").attr("cx",xL(1.2)).attr("cy",y(19.8)).attr("r",1.2).attr("fill",RED);
 grid(p,y,[15,10,5],leftGridHours); frame(p);
 yAxis(d3.axisLeft,129,y,[20,15,10,5,0],numFmt);
 yAxis(d3.axisRight,251.5,y,[20,15,10,5,0],d=>({20:"72",15:"54",10:"36",5:"18",0:"0"}[d]));
}
{
 const p={g:svg.append("g"),x:xL,y0:398.3,y1:430,a:135.5,b:245.9};
 grid(p,null,null,leftGridHours); frame(p);
 arrows(p,leftDir,17,413,1,6,3);
}
{
 const p=panel(xL,436.7,514.3);
 const y=d3.scaleLinear([0,.5,2,7,15],[514,495,475,456.3,435.7]);
 const yv=d3.scaleLinear([0,1,5,20,100],[514,495,475,456.3,435.7]);
 p.g.append("rect").attr("x",170).attr("y",p.y0).attr("width",61.7).attr("height",p.y1-p.y0).attr("fill","#e6e6e6");
 p.g.append("rect").attr("x",p.a).attr("y",p.y0).attr("width",p.b-p.a).attr("height",p.y1-p.y0).attr("fill",SKY).style("mix-blend-mode","multiply");
 dots(p,y,leftBase01,"#ffffff",3);
 dots(p,y,leftBase25,"#cccccc",3);
 dots(p,y,leftBase45,"#999999",3);
 dots(p,y,leftBase65,"#555555",3);
 dots(p,y,leftBase79,"#000000",3);
 dots(p,y,leftTop.map((v,i)=>[i,v]),BROWN,3);
 p.g.append("path").attr("d",lineGen(p,yv)(leftVis)).attr("fill","none").attr("stroke","#ff9900").attr("stroke-width",2);
 grid(p,y,[7,2,.5],leftGridHours); frame(p);
 yAxis(d3.axisLeft,129,y,[15,7,2,.5,0],d3.format(".1f"));
 yAxis(d3.axisRight,251.5,yv,[100,20,5,1,0],numFmt,ORANGE);
}
{
 const p=panel(xL,523.3,601.3),y=d3.scaleLinear([0,8],[601.3,523.3]),yf=d3.scaleLinear([0,1],[601.3,523.3]);
 p.g.append("rect").attr("x",170).attr("y",p.y0).attr("width",61.7).attr("height",p.y1-p.y0).attr("fill","#e6e6e6");
 p.g.append("rect").attr("x",p.a).attr("y",p.y0).attr("width",p.b-p.a).attr("height",p.y1-p.y0).attr("fill",SKY).style("mix-blend-mode","multiply");
 p.g.append("path").attr("d",areaGen(p,y,p.y1)(leftHigh)).attr("fill","#fff");
 p.g.append("path").attr("d",areaGen(p,y,p.y1)(leftMid)).attr("fill",OKTA_FILL.mid);
 p.g.append("path").attr("d",areaGen(p,y,p.y1)(leftLow)).attr("fill",OKTA_FILL.low);
 p.g.append("path").attr("d",areaGen(p,y,p.y1)(leftVeryLow)).attr("fill",OKTA_FILL.vlow);
 p.g.append("path").attr("d",lineGen(p,y)(leftHigh)).attr("fill","none").attr("stroke","#fff").attr("stroke-width",1);
 p.g.append("g").selectAll("rect").data(leftFogHours).join("rect").attr("x",d=>xL(d)-1.5).attr("width",3).attr("y",(d,i)=>yf(leftFogVals[i])).attr("height",(d,i)=>yf(0)-yf(leftFogVals[i])).attr("fill","#ffb000");
 grid(p,y,[6,4,2],leftGridHours); frame(p);
 yAxis(d3.axisLeft,129,y,[8,6,4,2,0],numFmt);
 yAxis(d3.axisRight,251.5,yf,[1,.75,.5,.25,0],numFmt,ORANGE);
}
timeLabels(xL,d3.axisTop,55,leftUtcHours,leftLocalLabels,3);
timeLabels(xL,d3.axisBottom,605,leftUtcHours,leftUtcLabels,0);

// ================= TEXT ===================
function T(s,x,y,color,opts={}){
 const t=svg.append("text").attr("x",x).attr("y",y).attr("fill",color||"#000").text(s)
  .style("font-size",(opts.size||11)+"px").attr("text-anchor",opts.anchor||"start");
 if(opts.bold)t.style("font-weight","bold");
 if(opts.ls)t.style("letter-spacing",opts.ls+"px");
 if(opts.f)squeeze(t,opts.f);
 return t;
}
function V(s,x,yc){
 const t=svg.append("text").attr("transform",`translate(${x},${yc}) rotate(-90)`).attr("text-anchor","middle").attr("fill",NAVY).style("font-size","12.5px").text(s);
 squeeze(t,.96);
}
T("wschód słońca: 04:10 CEST",286,12,NAVY,{size:12,ls:.2});
T("zachód słońca: 21:06 CEST",288,25,NAVY,{size:12,ls:.2});
T("21°43'31\"E, 53°59'46\"N",600,12,NAVY,{size:12,anchor:"middle",ls:.3});
T("(x=261,\u00a0 y=355)",600,25,NAVY,{size:12,anchor:"middle"});
T("wysokość (min, środek, max)",818,12,NAVY,{size:12,anchor:"middle",ls:.1});
T("121 - 141 - 157 m",819,25,NAVY,{size:12,anchor:"middle",ls:.2});
T("CEST",303,55,"#000",{size:12.5});T("CEST",855,55,"#000",{size:12.5});
T("UTC",306,616,"#000",{size:12.5});T("UTC",859,616,"#000",{size:12.5});
T("meteo@icm.edu.pl",309,652,NAVY,{size:12,ls:.55});
T("© 2007-2025 ICM, Uniwersytet Warszawski",623,652,NAVY,{size:12,ls:.58});
T("* powyżej poziomu morza",5,651,"#000",{size:8.5,bold:true});
V("temperatura",294,96);V("(°C)",306,96);
V("opad",294,183);V("(mm/h, kg/m²/h)",307,186);
V("ciśnienie",294,273);V("(hPa)",306,271);
V("wiatr",294,361);V("(m/s)",306,361);
V("pion. rozciągł. chm.",294,476);V("(km)",306,477);
V("zachmurzenie",294,571);V("(oktanty)",306,562);
V("(°C)",894,96);V("temperatura",906,96);
V("(%)",894,190);V("wilgotność wzgl.",906,185);
V("(mm Hg)",894,273);V("ciśnienie",906,273);
V("(km/h)",894,362);V("wiatr",906,362);
V("(km)",894,475);V("widzialność",906,475);
V("(frakcja)",894,563);V("mgła",906,563);
// compass
[[284,420,"W",0,13],[297,412,"N",0,13],[302,411,"E",90,10],[295,428,"S",0,13],[883,420,"W",0,13],[895,412,"N",0,13],[899,411,"E",90,10],[893,428,"S",0,13]].forEach(c=>{
 svg.append("text").attr("transform",`translate(${c[0]},${c[1]}) rotate(${c[3]})`).attr("fill",NAVY).style("font-size",c[4]+"px").text(c[2]);});
// legend texts
const legendTexts=[
["Czas lokalny",6,18,"#000"],["(CET/CEST)",6,30,"#000"],
["Temperatura gruntu",6,46,BROWN],["max/min",28,56,BROWN],["Temperatura:",6,68,"#000"],
["punkt środkowy",13,80,"#f00000"],["max/min",28,90,"#fcdccc"],["odczuwana",10,103,"#0000e0"],["max/min",28,113,"#88d4ff"],
["Temp. punktu rosy",6,125,"#6a5acd"],["Opad powyżej skali",6,142,"#f00000"],["Wilgotność względna",6,156,RH],["Wystąpienie burzy",6,170,"#000"],
["Deszcz:",6,184,"#00a000"],["max",50,184,"#00a000"],["średni",48,195,"#00a000"],
["Śnieg:",6,206,"#2040c0"],["max",48,206,"#2040c0"],["średni",48,217,"#2040c0"],
["Wystąpienie opadu",5,229,"#f00000"],["konwekcyjnego",5,241,"#f00000"],
["Ciśnienie",5,268,"#000"],["zredukowane",5,281,"#000"],["do poziomu morza",5,294,"#000"],
["Wiatr na 10m:",5,323,"#000"],["poryw powyżej skali",10,338,"#f00000"],["max porywy wiatru",10,352,"#f00000"],
["prędkość wiatru",10,372,NAVY],["w środku obszaru",10,385,NAVY],["kierunek wiatru",10,413,NAVY],
["Wierzchołek chmur",6,431,BROWN],["Podstawa chmur*",6,448,"#000"],["o pokryciu",6,458,"#000"],
["> 7.9 okt.",11,472,"#000"],["> 6.5 okt.",11,483,"#555"],["> 4.5 okt.",11,494,"#999"],["> 2.5 okt.",11,505,"#ccc"],
["Widzialność",6,529,"#ff8000"],["Chmury:",6,546,"#000"],["średnie",10,572,"#999"],["niskie",10,585,"#333"],["bardzo niskie",10,597,"#333"],
["Mgła",6,609,"#ffb000"]];
svg.append("rect").attr("x",11).attr("y",505.5).attr("width",44).attr("height",12).attr("fill",SKY);
svg.append("rect").attr("x",10).attr("y",551).attr("width",41).attr("height",12).attr("fill",SKY);
legendTexts.forEach(d=>T(d[0],d[1],d[2],d[3],{size:11,f:.97}));
T("Czas uniwersalny (UTC)",6,625,"#000",{size:12,f:.99});
T("> 0.1 okt.",11,515,"#fff",{size:11,f:.97});T("wysokie",11,560,"#fff",{size:11,ls:.4});
const leaders=[
["#000",[[68,16.7],[133,16.7],[157,46]]],
[BROWN,[[102,43.3],[120,43.3],[155,103]]],
["#f00",[[92,77],[114,77]]],["#f00",[[130,76],[133,77],[157,102]]],
["#0000e0",[[70,99],[135,99]]],
["#6a5acd",[[95,120],[112,120]]],["#6a5acd",[[128,120],[135,113]]],
["#f00",[[102,137],[137,137],[146,147]]],
[RH,[[107,151],[112,151]]],[RH,[[130,151],[135,151],[147,165]]],
["#000",[[103,166],[112,166]]],["#000",[[129,166],[132,166],[137,171]]],
["#00a000",[[72,179],[138,179]]],["#00a000",[[81,190],[135,190]]],
["#2040c0",[[70,202],[112,202]]],["#2040c0",[[130,202],[160,172]]],["#2040c0",[[82,213],[132,213],[160,180]]],
["#f00",[[97,225],[143,225],[146,221]]],
["#000",[[51,264],[130,264],[135,262]]],
["#f00",[[111,335],[118,335]]],["#f00",[[130,335],[135,325],[139,316]]],
["#f00",[[107,348],[132,348],[144,340]]],
[NAVY,[[92,367],[136,367]]],[NAVY,[[86,410],[140,410]]],
[BROWN,[[100,430],[113,430],[185,448]]],
["#000",[[58,468],[135,468],[191,457]]],
["#555",[[58,480],[143,480]]],
["#999",[[58,490],[132,490],[143,502]]],
["#ccc",[[56,501],[133,501],[138,505]]],
[SKY,[[55,509.5],[136,509.5]]],[SKY,[[55,511.5],[136,511.5]]],
["#ff8000",[[67,527],[129,527],[170,467]]],
[SKY,[[54,556],[186,556]]],[SKY,[[54,558],[186,558]]],
["#999",[[49,571],[193,571]]],
["#333",[[37,581],[118,581]]],["#333",[[130,581],[136,581]]],
["#333",[[75,594],[135,594]]],
["#ffb000",[[26,605],[215,605],[219,600]]],
["#000",[[139,623],[146,623],[157,610]]]];
const lg=d3.line();
svg.append("g").selectAll("path").data(leaders).join("path").attr("d",d=>lg(d[1])).attr("fill","none").attr("stroke",d=>d[0]).attr("stroke-width",1);
</script>
</body></html>
